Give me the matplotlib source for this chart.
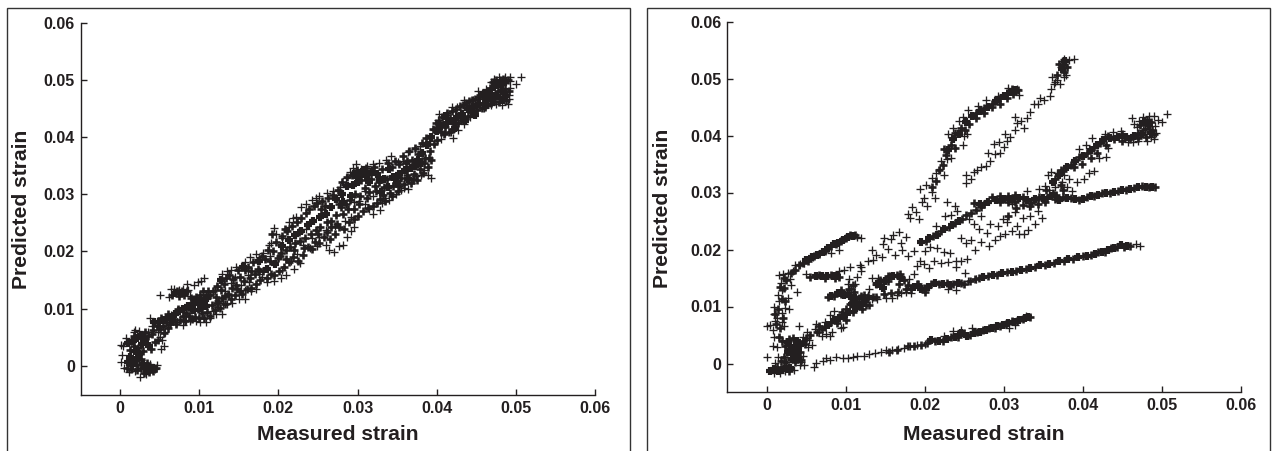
import matplotlib
matplotlib.use("Agg")
import matplotlib.pyplot as plt
from matplotlib.patches import Rectangle

plt.rcParams['font.family'] = ['Liberation Sans', 'DejaVu Sans']
INK = '#231f20'
W, H = 1272, 451

tick_values = [0, 0.01, 0.02, 0.03, 0.04, 0.05, 0.06]
tick_labels = ['0', '0.01', '0.02', '0.03', '0.04', '0.05', '0.06']
x_label = 'Measured strain'
y_label = 'Predicted strain'

# All point values below are strain x 1000.
left_core = [
 (1.0,0.6),(1.5,0.2),(1.3,1.5),(2.0,1.0),(2.4,2.0),(1.9,2.6),(3.2,-0.4),(3.7,-0.6),(4.2,-0.3),(2.9,0.3),
 (1.0,4.0),(1.6,4.4),(2.2,4.8),(2.8,3.8),(3.2,4.5),(2.6,5.4),(3.6,3.4),(4.3,7.6),(4.9,7.6),(5.5,8.1),
 (6.2,8.5),(6.9,9.0),(7.5,9.6),(8.0,10.0),(8.6,10.4),(9.2,10.9),(9.8,11.2),(10.4,11.4),(11.0,11.8),(10.2,10.2),
 (10.8,10.5),(9.4,9.8),(7.0,12.7),(8.0,12.7),(12.8,15.0),(15.5,17.3),(17.6,18.3),(18.6,17.0),(19.6,17.8),(20.5,21.0),
 (21.3,22.0),(22.1,22.9),(22.9,23.6),(23.7,24.6),(24.4,25.4),(25.2,26.0),(26.0,26.5),(26.7,27.7),(27.3,29.2),(28.0,30.0),
 (28.7,31.4),(29.4,31.6),(29.9,33.0),(30.5,33.6),(31.1,33.2),(31.8,33.8),(32.4,33.5),(30.0,32.2),(33.0,30.4),(33.8,31.2),
 (34.5,33.0),(35.2,33.6),(36.0,34.2),(36.8,34.5),(37.6,36.0),(38.2,37.2),(38.8,38.6),(39.3,40.0),(40.0,41.0),(40.6,42.0),
 (41.3,42.4),(42.0,42.8),(42.6,43.5),(43.2,44.0),(43.9,44.8),(44.6,45.2),(45.4,45.8),(46.2,46.5),(46.8,47.5),(47.2,48.8),
 (47.7,49.3),(48.2,49.2),(48.6,49.6),(48.2,48.0),(47.6,47.2),(48.8,47.2),
 (29.5,33.6),(30.8,34.2),(31.5,32.2),(32.8,32.4),(33.4,32.6),(28.2,28.6),(29.2,29.6),(34.0,34.4),(35.0,32.2),(36.4,32.6),
 (37.2,35.0),(38.0,35.4),(41.0,43.6),(42.3,41.6),(43.6,42.8),(44.9,43.8),(46.4,45.6),(47.0,46.4),(48.4,46.5),(46.0,47.5),
]
left_mid = [
 (0.9,-0.4),(1.2,2.8),(1.4,-0.6),(1.7,3.4),(1.8,5.2),(2.1,0.2),(2.2,-0.8),(2.3,3.2),(2.6,-0.3),(2.7,1.2),(2.9,2.6),(3.0,-1.2),(3.1,6.0),(3.4,0.5),(3.5,5.2),(3.6,-1.0),
 (3.9,3.0),(4.0,5.5),(4.1,-0.9),(4.2,6.2),(4.4,4.2),(4.6,-0.4),(4.7,7.0),(4.8,4.6),(5.0,6.4),(5.2,8.3),(5.4,6.9),(5.6,5.8),(5.8,7.6),(6.0,6.6),(6.1,9.0),(6.3,7.4),
 (6.5,12.4),(6.6,7.9),(6.8,8.2),(7.1,7.4),(7.2,13.1),(7.3,9.9),(7.4,12.2),(7.6,8.0),(7.8,13.0),(7.9,8.8),(8.1,12.3),(8.2,7.9),(8.3,9.2),(8.5,13.1),(8.7,8.7),(8.9,9.7),
 (9.0,11.9),(9.1,8.2),(9.3,11.6),(9.5,8.5),(9.6,12.1),(9.8,10.0),(10.0,8.3),(10.1,12.4),(10.3,9.2),(10.5,13.0),(10.6,8.4),(10.8,12.3),(11.0,9.5),(11.1,13.0),(11.3,8.7),(11.4,12.4),
 (11.6,10.7),(11.8,13.1),(12.0,9.7),(12.1,12.0),(12.3,14.0),(12.4,11.3),(12.6,10.2),(12.7,13.2),(12.9,11.9),(13.1,14.3),(13.3,10.8),(13.4,15.3),(13.6,12.6),(13.8,15.9),(14.0,11.7),(14.1,13.6),
 (14.3,15.2),(14.5,12.4),(14.7,14.2),(14.9,16.7),(15.1,13.0),(15.2,15.6),(15.4,12.6),(15.6,14.8),(15.8,16.8),(16.0,13.4),(16.2,17.2),(16.4,15.4),(16.6,13.6),(16.8,18.2),(17.0,16.0),(17.2,14.3),
 (17.4,17.0),(17.7,15.0),(17.9,19.2),(18.1,16.6),(18.3,18.6),(18.5,15.3),(18.7,20.3),(18.9,18.4),(19.1,16.1),(19.3,20.0),(19.5,15.8),(19.7,21.6),(19.9,18.9),(20.1,16.6),(20.3,19.8),(20.5,22.7),
 (20.7,17.3),(20.9,20.2),(21.1,23.6),(21.3,18.1),(21.5,20.8),(21.7,24.5),(21.9,19.0),(22.1,21.5),(22.3,25.1),(22.5,18.4),(22.7,21.8),(22.9,25.8),(23.1,19.3),(23.3,22.4),(23.5,26.7),(23.7,20.8),
 (23.9,27.4),(24.1,23.1),(24.3,20.5),(24.5,27.9),(24.7,23.7),(24.9,28.4),(25.1,21.4),(25.3,24.2),(25.5,28.8),(25.7,22.5),(25.9,28.0),(26.1,25.2),(26.3,29.3),(26.5,22.2),(26.7,25.3),(26.9,29.8),
 (27.1,23.0),(27.3,26.3),(27.5,30.8),(27.7,24.2),(27.9,27.7),(28.1,32.1),(28.3,24.0),(28.5,28.2),(28.7,33.0),(28.9,25.2),(29.1,29.0),(29.3,33.4),(29.5,25.6),(29.7,30.0),(29.9,34.2),(30.1,26.2),
 (30.3,29.7),(30.5,32.4),(30.7,27.0),(30.9,31.0),(31.1,34.6),(31.3,27.6),(31.5,30.4),(31.7,32.6),(31.9,28.0),(32.1,34.8),(32.3,30.6),(32.5,28.4),(32.7,32.1),(32.9,29.1),(33.1,34.4),(33.3,31.2),
 (33.5,28.8),(33.7,32.6),(33.9,35.4),(34.1,30.2),(34.3,34.7),(34.5,31.4),(34.7,35.8),(34.9,32.0),(35.1,30.6),(35.3,35.2),(35.5,32.8),(35.7,36.7),(35.9,31.8),(36.1,35.4),(36.3,33.3),(36.5,37.6),
 (36.7,31.9),(36.9,35.9),(37.1,33.5),(37.3,38.1),(37.5,32.4),(37.7,37.0),(37.9,34.4),(38.1,39.0),(38.3,33.7),(38.5,36.3),(38.7,39.9),(38.9,34.8),(39.1,37.6),(39.3,35.9),(39.5,41.4),(39.7,38.7),
 (39.9,42.4),(40.1,39.4),(40.3,42.7),(40.5,40.9),(40.7,43.5),(40.9,40.6),(41.1,41.8),(41.3,44.2),(41.5,40.9),(41.7,43.3),(41.9,44.6),(42.1,41.4),(42.3,42.2),(42.5,44.8),(42.7,42.4),(42.9,45.4),
 (43.1,42.9),(43.3,45.6),(43.5,43.4),(43.7,46.0),(43.9,43.6),(44.1,46.2),(44.3,44.3),(44.5,46.4),(44.7,44.4),(44.9,46.6),(45.1,44.7),(45.3,46.9),(45.5,47.4),(45.7,45.0),(45.9,47.6),(46.1,45.2),
 (46.3,48.0),(46.5,47.0),(46.7,48.6),(46.9,46.0),(47.1,49.6),(47.3,46.3),(47.5,50.0),(47.7,48.0),(47.9,46.1),(48.0,50.0),(48.3,46.8),(48.4,50.2),(48.6,48.4),(48.8,46.4),(49.0,49.9),(49.1,48.0),
 (19.2,23.0),(20.2,19.2),(20.8,24.0),(21.0,18.6),(22.0,20.2),(22.6,23.4),(23.2,20.6),(24.6,21.6),(25.0,23.0),(25.4,27.4),(26.2,23.4),(26.6,24.2),(27.4,24.8),(27.6,28.2),(28.2,26.6),(28.8,27.4),
 (29.6,27.4),(30.2,28.2),(31.2,29.4),(32.2,31.4),(33.2,29.9),(34.4,29.6),(35.2,31.4),(36.2,35.8),(37.0,32.7),(38.4,35.4),(39.0,36.4),(16.6,16.6),(17.6,16.5),(14.8,13.4),(13.2,12.2),(12.2,11.0),
]
left_sparse = [
 (0.1,3.6),(0.4,3.5),(0.2,1.9),(0.1,0.7),(0.5,-0.3),(1.1,-1.0),(1.9,-0.9),(2.5,-1.9),(3.3,-1.5),(4.4,-0.6),
 (4.7,0.1),(3.8,0.4),(2.6,1.0),(0.8,4.9),(1.7,5.9),(1.9,6.2),(2.4,6.1),(3.1,5.7),(3.5,6.0),(3.8,8.4),
 (4.0,7.0),(4.8,5.9),(5.0,5.0),(5.3,4.6),(5.7,5.9),(5.6,3.5),(5.2,3.0),(5.0,12.4),(6.4,13.4),(6.2,12.0),
 (6.8,13.5),(7.5,13.2),(8.0,13.5),(8.6,13.2),(8.5,14.3),(9.4,14.2),(10.2,14.9),(10.6,15.3),(9.9,14.7),(8.8,12.2),
 (6.4,8.9),(7.2,7.6),(7.9,7.2),(8.3,8.0),(8.8,7.8),(9.6,7.8),(10.1,7.7),(10.8,7.6),(11.4,8.3),(12.1,9.0),
 (12.9,9.0),(11.8,9.6),(12.4,10.3),(13.0,11.0),(13.5,10.9),(14.2,11.0),(15.0,11.6),(15.8,11.7),(16.5,13.0),(17.2,13.5),
 (12.0,13.2),(12.3,13.8),(12.9,16.0),(13.5,16.5),(14.0,16.7),(14.7,17.2),(14.5,15.6),(14.0,14.5),(13.3,13.0),(13.8,12.4),
 (15.3,14.2),(15.8,13.3),(16.3,14.6),(16.1,15.8),(15.8,18.1),(16.4,19.1),(17.2,19.5),(18.0,19.8),(17.5,16.0),(17.9,15.5),
 (18.6,14.7),(19.4,14.9),(20.3,15.3),(20.9,15.9),(20.5,16.8),(22.0,16.9),(21.6,18.3),(22.7,18.0),(22.4,19.5),(19.0,19.2),
 (19.1,21.5),(19.4,24.1),(19.7,23.0),(18.8,21.1),(20.4,22.4),(21.3,25.2),(21.8,25.8),(22.2,26.0),(21.4,24.2),(22.9,27.7),
 (23.5,28.2),(24.2,29.0),(24.8,29.3),(25.1,29.7),(23.1,21.1),(24.0,20.6),(24.9,20.9),(25.1,22.6),(24.2,22.4),(23.5,24.0),
 (26.0,21.1),(26.4,20.2),(27.0,19.9),(27.6,21.0),(28.2,21.1),(28.7,22.6),(29.2,23.6),(29.6,24.3),(27.1,24.4),(26.0,23.8),
 (26.2,30.2),(26.9,30.5),(27.8,31.2),(28.5,32.9),(29.1,33.9),(29.4,34.5),(29.8,35.3),(30.4,34.4),(31.2,34.9),(32.0,35.2),
 (32.7,35.4),(33.6,35.9),(34.2,36.6),(30.2,28.8),(30.9,28.2),(31.5,27.4),(32.0,26.5),(32.8,27.2),(33.1,28.5),(29.2,26.0),
 (28.4,25.4),(29.5,28.6),(31.0,30.6),(31.9,29.6),(33.5,29.3),(34.0,29.0),(34.8,30.1),(35.5,30.7),(35.9,31.0),(36.4,30.9),
 (36.8,32.0),(37.4,33.1),(38.0,33.4),(38.4,34.2),(38.9,33.3),(39.3,32.9),(35.1,35.6),(35.7,35.8),(36.4,37.3),(37.3,37.9),
 (37.9,38.4),(38.6,39.2),(39.2,39.3),(40.5,39.6),(41.0,40.7),(41.8,40.8),(42.0,39.9),(42.7,41.2),(43.4,42.2),(44.2,43.5),
 (39.6,41.2),(40.2,43.0),(40.3,44.0),(41.2,43.8),(41.9,45.3),(42.6,45.3),(43.5,46.4),(44.6,46.5),(45.3,46.9),(45.9,46.7),
 (46.0,45.0),(46.9,45.5),(47.5,45.8),(48.3,45.6),(49.0,45.8),(49.1,46.6),(49.1,47.3),(49.3,48.6),(49.2,49.8),(50.0,49.3),
 (46.2,48.3),(46.9,49.6),(47.2,50.1),(47.9,50.5),(48.6,50.4),(49.3,50.5),(50.6,50.4),(45.2,48.0),
]

right_core = [
 (0.5,-1.3),(1.0,-1.0),(1.5,-1.3),(2.0,-1.2),(2.6,-1.0),(3.0,-0.8),(2.7,2.0),(3.2,2.8),(3.6,3.0),(4.0,2.6),
 (4.3,3.2),(3.5,1.5),(3.2,0.8),(4.0,1.0),(2.7,3.8),(3.8,4.0),(5.0,18.2),(5.7,18.6),(6.4,19.0),(7.1,19.5),
 (7.8,20.2),(8.5,20.9),(9.1,21.2),(9.7,21.7),(10.3,22.2),(10.9,22.3),(6.3,15.3),(7.0,15.3),(7.7,15.4),(8.4,15.3),
 (8.9,15.4),(8.2,11.8),(9.0,12.3),(9.8,12.0),(7.8,6.8),(8.6,7.7),(9.2,8.0),(9.8,8.4),(10.4,9.0),(10.8,10.5),
 (11.2,11.5),(10.6,11.8),(11.3,9.8),(11.9,10.3),(12.4,11.0),(14.7,13.3),(16.0,15.3),(17.0,15.0),(18.7,13.4),(19.5,13.0),
 (20.4,13.5),(21.3,14.1),(22.3,14.0),(23.2,13.8),(24.2,14.1),(19.5,21.4),(20.6,22.0),(21.6,22.6),(22.5,23.6),(23.5,24.3),
 (24.3,25.0),(15.0,14.5),(14.0,14.0),(20.8,4.2),(21.8,3.9),(22.8,4.3),(23.8,4.7),(24.6,5.3),(25.4,4.9),(26.2,5.3),
 (27.0,5.6),(27.8,5.9),(28.5,6.2),(29.2,6.5),(29.9,6.8),(30.6,7.1),(31.3,7.3),(32.0,7.6),(32.7,7.9),(33.1,8.1),
 (27.4,15.2),(28.6,15.5),(29.8,15.8),(31.0,16.1),(32.2,16.4),(33.4,16.8),(34.6,17.2),(35.8,17.4),(37.0,17.9),(38.2,18.3),
 (39.4,18.6),(40.6,18.9),(41.6,19.2),(42.4,19.6),(43.2,20.0),(44.0,20.2),(44.8,20.8),(45.6,20.6),(27.0,28.0),(28.0,28.3),
 (29.0,28.7),(30.0,28.8),(31.0,28.9),(32.0,29.0),(33.0,28.6),(34.0,28.8),(35.0,29.0),(36.0,29.3),(37.0,28.7),(38.0,29.0),
 (39.0,28.8),(40.0,28.9),(41.0,29.3),(42.0,29.6),(43.0,30.0),(44.0,30.1),(45.0,30.4),(46.0,30.7),(47.0,31.0),(48.0,31.0),
 (48.8,30.9),(36.2,31.8),(37.0,33.0),(38.0,34.5),(39.0,35.5),(40.0,36.4),(41.0,37.5),(41.8,38.3),(42.6,39.2),(43.5,39.6),
 (44.5,39.8),(45.5,39.7),(46.5,40.0),(47.5,40.2),(48.6,40.4),(48.4,41.8),(47.8,42.4),(23.0,37.5),(23.6,39.3),(24.3,40.2),
 (25.2,42.4),(26.0,43.5),(27.0,44.3),(28.0,45.0),(29.0,46.0),(30.0,47.0),(30.8,47.6),(31.4,47.9),(37.4,51.6),(37.8,53.0),
]
right_mid = [
 (2.4,3.0),(2.9,4.3),(3.4,4.4),(3.0,3.2),(3.8,2.0),(4.2,2.0),(4.6,3.9),(2.2,1.2),(2.5,0.3),(1.8,0.4),(3.6,0.2),(4.4,0.6),(1.3,-0.6),(2.2,-0.5),(2.9,-1.4),(4.9,3.5),
 (3.1,15.9),(3.6,16.4),(4.1,17.3),(4.6,17.7),(5.3,18.0),(6.0,18.9),(6.7,19.2),(7.4,19.8),(8.1,20.6),(8.8,21.0),(9.4,21.5),(10.0,22.0),(10.6,22.5),(11.2,22.5),(5.5,15.2),(6.7,15.6),
 (7.4,15.0),(8.1,15.6),(8.7,15.0),(9.2,15.2),(7.8,11.6),(8.6,11.9),(9.4,12.2),(9.4,12.9),(10.2,12.3),(6.4,5.6),(7.0,6.0),(7.4,6.4),(8.2,7.2),(8.9,7.1),(9.5,9.0),(10.0,9.5),
 (10.1,7.7),(10.6,10.4),(11.0,9.0),(11.4,10.8),(11.7,11.5),(11.1,12.6),(12.1,9.6),(12.6,10.3),(13.0,10.2),(13.5,11.7),(12.3,12.0),(10.4,13.0),(10.9,13.7),(13.8,13.9),(14.3,14.0),(15.4,14.4),
 (15.6,15.4),(16.5,15.5),(17.4,14.6),(17.9,13.8),(18.3,13.0),(19.1,14.0),(19.9,13.2),(20.1,12.6),(20.8,13.9),(21.8,13.9),(22.8,14.1),(23.6,13.9),(24.6,14.2),(25.0,14.0),(25.8,14.4),(26.4,14.9),
 (26.9,15.0),(28.0,15.4),(29.2,15.6),(30.4,16.0),(31.6,16.2),(32.8,16.6),(34.0,17.0),(35.2,17.3),(36.4,17.6),(37.6,18.0),(38.8,18.4),(40.0,18.8),(41.1,19.0),(42.0,19.5),(42.8,19.6),(43.6,20.2),
 (44.4,20.5),(45.2,20.5),(46.0,20.7),(21.3,4.0),(22.3,4.0),(23.3,4.6),(24.2,4.7),(25.0,5.3),(25.8,5.0),(26.6,5.6),(27.4,5.8),(28.2,6.2),(28.9,6.3),(29.6,6.6),(30.3,7.0),(31.0,7.4),
 (31.7,7.4),(32.4,7.8),(33.4,8.2),(16.5,2.4),(18.7,3.1),(20.3,3.6),(19.6,3.3),(17.9,3.0),(15.5,2.1),(26.3,28.2),(27.5,27.9),(28.5,29.2),(29.5,28.4),(29.5,29.4),(30.5,29.4),(30.5,28.4),
 (31.5,28.4),(31.5,29.6),(32.5,29.2),(33.5,28.2),(34.5,29.2),(35.5,29.0),(36.5,28.9),(37.5,29.2),(38.5,29.0),(39.5,28.6),(40.5,29.2),(41.5,29.4),(42.5,29.9),(43.5,30.0),(44.5,30.2),(45.5,30.5),
 (46.5,30.8),(47.5,31.1),(48.4,31.0),(49.2,30.9),(19.2,14.0),(20.2,21.5),(21.1,22.4),(22.1,23.2),(23.1,24.0),(23.9,24.7),(24.7,25.3),(25.3,26.0),(25.9,26.4),(26.5,26.9),(27.2,27.4),(30.6,25.8),
 (31.6,27.2),(32.4,27.8),(33.4,27.6),(34.4,27.9),(35.2,28.3),(35.4,30.5),(36.2,30.0),(36.6,29.6),(37.2,31.3),(37.5,30.4),(36.5,32.4),(37.5,33.7),(37.2,34.0),(38.5,34.9),(38.9,34.4),(39.5,36.2),
 (39.9,35.0),(40.5,37.0),(41.0,36.0),(41.4,38.0),(42.2,38.6),(41.8,37.0),(43.0,38.4),(43.2,40.0),(44.0,39.4),(45.0,40.2),(45.0,39.0),(46.0,39.4),(47.0,40.4),(47.0,39.6),(48.0,39.8),(48.8,41.0),
 (47.9,41.2),(47.3,41.8),(48.1,42.8),(48.7,42.3),(49.0,40.2),(22.3,34.8),(22.7,36.5),(22.4,37.7),(23.3,38.4),(23.8,37.8),(23.9,40.5),(24.6,41.3),(25.6,42.0),(25.1,41.0),(26.5,44.0),(26.5,43.1),
 (27.5,44.8),(27.5,44.0),(28.5,45.5),(28.5,45.0),(29.5,46.5),(29.5,45.6),(30.4,47.5),(30.4,46.6),(31.0,48.2),(31.2,47.3),(31.8,48.0),(20.9,31.0),(21.4,32.1),(21.8,34.0),(37.0,52.6),(37.5,52.3),
 (38.0,52.0),(37.7,51.2),(36.8,50.6),(16.8,14.0),(16.9,15.7),(14.3,14.6),(15.4,15.3),
 (1.1,8.6),(1.4,9.6),(1.2,7.0),(1.7,6.2),(1.9,11.4),(2.2,13.2),(2.5,14.6),(2.2,15.0),(1.7,13.5),(2.4,11.0),(2.1,8.0),(1.6,4.6),(2.0,4.0),(5.0,4.5),(5.5,5.0),(6.7,6.6),
 (12.0,11.8),(12.8,11.6),(13.9,11.6),(14.9,12.2),(15.8,12.3),(16.7,12.6),(17.6,13.0),
]
right_sparse = [
 (0.0,6.5),(0.4,6.7),(0.8,5.9),(1.0,4.7),(0.8,3.1),(1.3,2.9),(0.0,1.2),(1.5,1.1),(1.1,0.1),(0.9,-1.6),
 (1.7,-1.7),(2.4,-1.3),(3.5,-1.2),(4.2,-0.3),(4.7,-0.2),(4.4,0.3),(4.6,1.3),(5.2,2.9),(5.7,3.2),(5.4,4.2),
 (4.6,4.6),(4.1,6.5),(5.1,5.6),(6.1,6.1),(6.7,5.6),(7.0,4.8),(7.5,5.2),(8.0,4.8),(8.3,5.5),(9.4,6.3),
 (1.1,7.5),(0.9,8.7),(1.0,9.9),(1.3,8.0),(1.9,7.2),(2.2,6.5),(2.0,8.9),(2.3,9.8),(2.8,9.6),(1.6,10.9),
 (1.5,12.1),(2.0,12.9),(1.8,14.2),(1.6,15.5),(2.1,15.7),(2.7,15.8),(3.0,14.9),(3.1,13.8),(3.8,12.6),(2.7,11.5),
 (3.3,16.3),(3.6,17.2),(4.2,17.4),(4.8,17.6),(5.0,15.7),(5.9,18.7),(8.2,19.4),(9.2,20.0),(11.5,22.2),(11.9,22.1),
 (6.2,6.9),(7.4,7.3),(8.6,9.2),(8.0,8.5),(9.7,6.4),(10.4,14.9),(10.3,14.0),(10.7,13.0),(11.2,14.0),(11.5,15.2),
 (9.2,16.2),(9.8,16.4),(10.6,16.9),(11.8,17.3),(11.9,16.2),(12.9,17.9),(13.5,18.2),(13.3,20.0),(13.9,19.0),(14.6,18.6),
 (14.8,21.0),(14.9,22.1),(15.7,21.9),(16.0,22.5),(16.8,23.0),(17.0,21.1),(17.7,22.2),(18.2,25.5),(17.9,26.3),(18.4,27.4),
 (18.9,26.6),(19.3,25.3),(19.7,28.3),(19.9,29.1),(20.3,27.7),(19.4,30.6),(20.2,31.4),(20.9,30.1),(21.3,29.0),(21.0,32.6),
 (21.5,33.4),(22.0,34.1),(22.4,33.0),(22.1,35.5),(22.9,35.8),(23.4,36.0),(23.0,40.2),(23.6,41.4),(24.3,42.6),(24.9,43.2),
 (24.9,38.3),(25.4,40.2),(25.0,40.0),(25.5,44.5),(26.8,45.2),(27.8,46.3),(29.3,47.0),(30.5,48.3),(31.7,48.2),(32.0,47.1),
 (13.0,13.0),(12.9,12.0),(13.3,11.3),(14.0,11.4),(15.1,11.5),(15.9,11.5),(16.5,12.0),(17.0,12.4),(17.7,12.6),(18.3,12.3),
 (18.0,14.8),(18.6,15.7),(19.0,17.1),(19.4,18.0),(19.9,17.5),(20.5,16.8),(21.2,18.0),(22.1,17.6),(23.0,17.8),(24.0,17.9),
 (24.6,18.0),(25.4,18.4),(23.2,19.3),(22.4,19.6),(21.6,20.2),(20.7,20.5),(20.0,19.8),(18.6,19.8),(17.9,18.9),(17.2,19.9),
 (16.3,19.1),(15.4,20.1),(21.4,24.1),(22.6,25.8),(23.3,26.0),(24.1,26.7),(23.9,27.7),(22.8,28.4),(24.6,22.0),(25.2,21.1),
 (25.9,21.6),(26.4,20.0),(27.2,21.3),(27.9,22.9),(28.2,20.7),(28.9,21.6),(29.6,22.3),(30.2,22.7),(29.3,24.2),(28.3,24.5),
 (27.1,25.8),(26.3,24.5),(26.9,23.6),(25.6,25.3),(29.9,25.3),(30.4,24.9),(31.1,23.2),(31.9,22.8),(32.6,22.8),(33.1,23.4),
 (34.0,24.4),(34.8,25.5),(31.7,24.2),(32.4,25.6),(33.4,25.9),(34.3,26.7),(33.2,27.6),(31.4,26.6),(31.0,27.9),(33.0,30.2),
 (34.5,30.7),(35.2,31.2),(35.8,30.4),(36.5,31.0),(35.6,33.0),(36.0,33.6),(36.8,33.4),(37.6,33.0),(38.3,32.3),(37.4,31.8),
 (38.0,31.0),(38.7,30.3),(39.3,31.8),(40.2,32.3),(40.8,33.4),(41.5,33.8),(38.8,35.0),(39.5,37.7),(40.4,38.4),(41.2,39.5),
 (42.1,36.1),(42.9,36.3),(43.2,37.8),(42.8,40.2),(43.9,40.6),(44.8,40.8),(45.8,38.9),(46.4,38.9),(47.0,39.0),(48.2,39.0),
 (49.0,39.4),(49.3,40.4),(48.6,39.8),(47.6,41.0),(46.9,41.5),(47.1,42.6),(46.3,43.0),(46.5,42.0),(47.6,43.3),(48.4,43.5),
 (49.0,43.4),(49.5,42.8),(49.2,41.7),(50.0,42.3),(50.7,43.7),(13.4,15.0),(14.1,15.0),(12.0,17.0),(24.0,16.9),(25.1,15.9),
 (23.0,13.0),(24.0,12.9),(25.5,14.5),(26.5,14.8),(25.2,31.6),(25.9,32.3),(25.2,33.0),(26.3,33.6),(26.6,33.9),(27.2,34.5),
 (27.8,34.7),(28.3,35.6),(28.9,36.7),(28.0,37.0),(28.8,38.5),(29.5,37.0),(30.0,38.0),(30.4,39.0),(30.8,39.8),(30.2,40.2),
 (29.4,38.8),(31.4,41.0),(31.7,42.2),(32.2,42.5),(31.5,43.2),(32.6,41.4),(33.0,43.0),(33.3,44.2),(33.8,45.6),(34.4,45.6),
 (34.6,46.6),(35.1,46.2),(35.9,47.0),(36.0,48.2),(36.4,49.0),(36.8,49.8),(36.1,50.2),(36.5,49.3),(37.1,49.1),(37.6,50.2),
 (37.9,50.7),(37.2,52.0),(37.7,53.5),(38.3,53.2),(37.4,53.0),(38.9,53.4),(6.2,0.1),(6.0,-0.6),(7.2,0.4),(7.5,0.9),
 (8.0,0.6),(8.8,1.1),(9.7,0.9),(10.3,0.9),(10.9,1.2),(11.5,1.3),(12.3,1.4),(13.0,1.6),(13.7,1.9),(14.5,2.0),
 (15.1,2.4),(15.9,2.3),(16.6,2.5),(17.4,2.8),(18.2,3.1),(19.1,3.3),(20.1,3.4),(30.7,6.2),(31.5,6.8),(32.8,8.4),
 (22.4,4.8),(23.6,5.7),(24.6,5.9),(26.0,6.3),(47.3,20.6),(46.7,20.9),
]

def to_xy(points):
    return [p[0] / 1000 for p in points], [p[1] / 1000 for p in points]

fig = plt.figure(figsize=(W / 100, H / 100), dpi=100, facecolor='white')

for fx0, fx1, top in [(7, 630, 8.5), (647, 1270, 8)]:
    fig.add_artist(Rectangle((fx0 / W, -0.05), (fx1 - fx0) / W, 1.05 - top / H,
                             transform=fig.transFigure, fill=False,
                             edgecolor='#333333', linewidth=1.0))

def panel(px0, px1, pytop, pybot, core, mid, sparse, ylabel_x, xlabel_x, xlabel_y, ylabel_y):
    ax = fig.add_axes([px0 / W, 1 - pybot / H, (px1 - px0) / W, (pybot - pytop) / H])
    ax.patch.set_alpha(0)
    ax.set_xlim(-0.005, 0.06)
    ax.set_ylim(-0.005, 0.06)
    for s in ('top', 'right'):
        ax.spines[s].set_visible(False)
    for s in ('left', 'bottom'):
        ax.spines[s].set_linewidth(1.0)
        ax.spines[s].set_color(INK)
    ax.set_xticks(tick_values, tick_labels)
    ax.set_yticks(tick_values, tick_labels)
    ax.tick_params(axis='both', direction='in', length=4.5, width=1.0, color=INK,
                   labelcolor=INK, labelsize=11.5, pad=4)
    for lab in ax.get_xticklabels() + ax.get_yticklabels():
        lab.set_fontweight('bold')
    ax.tick_params(axis='x', pad=4.5)
    x, y = to_xy(sparse)
    ax.plot(x, y, ls='none', marker='+', ms=5.2, mew=0.95, color=INK, clip_on=False)
    x, y = to_xy(mid)
    ax.plot(x, y, ls='none', marker='+', ms=5.8, mew=1.9, color=INK, clip_on=False)
    x, y = to_xy(core)
    ax.plot(x, y, ls='none', marker='+', ms=6.2, mew=3.0, color=INK, clip_on=False)
    fig.text(ylabel_x / W, 1 - ylabel_y / H, y_label, rotation=90, ha='center', va='center',
             fontsize=15.2, fontweight='bold', color=INK)
    fig.text(xlabel_x / W, 1 - xlabel_y / H, x_label, ha='center', va='center',
             fontsize=15.2, fontweight='bold', color=INK)
    return ax

panel(80.5, 595, 22.5, 394.5, left_core, left_mid, left_sparse, 22, 338, 435, 209)
panel(727, 1240.7, 21.5, 392, right_core, right_mid, right_sparse, 662, 984, 434, 208)

fig.savefig('out.png', dpi=100, facecolor='white')
